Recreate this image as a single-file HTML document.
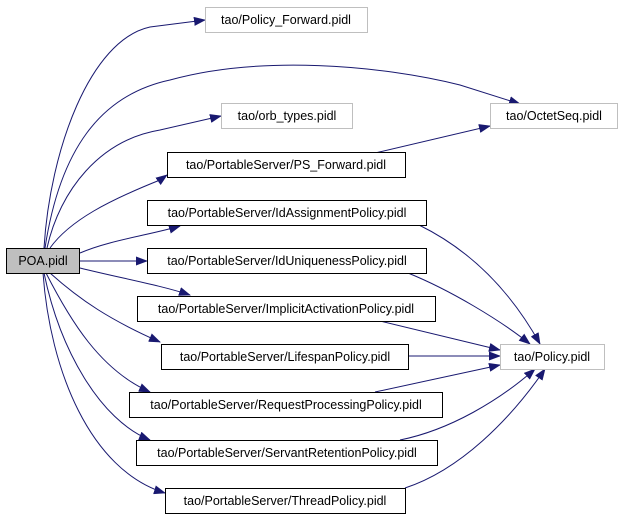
<!DOCTYPE html>
<html><head><meta charset="utf-8"><style>
html,body{margin:0;padding:0;background:#fff;}
svg{display:block;}
text{font-family:"Liberation Sans",sans-serif;font-size:12.5px;fill:#000;}
</style></head><body>
<svg width="619" height="517" viewBox="0 0 619 517" xmlns="http://www.w3.org/2000/svg">
<defs>
<marker id="a" markerWidth="12" markerHeight="9" refX="11" refY="4.5" orient="auto" markerUnits="userSpaceOnUse">
<path d="M0,0 L12,4.5 L0,9 Z" fill="#191970"/>
</marker>
</defs>
<g fill="none" stroke="#191970" stroke-width="1" marker-end="url(#a)">
<path d="M44,248 C50,150 90,40 150,27 L205,20"/>
<path d="M45,248 C60,150 100,95 170,80 C260,55 380,65 460,85 L520,104"/>
<path d="M47,248 C60,190 100,140 160,130 L221,116"/>
<path d="M50,248 C70,220 110,200 160,180 L167,175"/>
<path d="M80,253 C110,240 150,235 180,226"/>
<path d="M80,261 L147,261"/>
<path d="M80,268 C120,278 160,285 190,295"/>
<path d="M50,273 C80,300 110,320 160,342"/>
<path d="M46,273 C70,320 100,370 150,392"/>
<path d="M44,273 C60,350 100,420 150,440"/>
<path d="M43,273 C50,370 90,470 165,493"/>
<path d="M375,153 L490,126"/>
<path d="M419,225 C470,250 510,290 540,344"/>
<path d="M408,273 C450,290 500,320 530,344"/>
<path d="M380,321 L500,350"/>
<path d="M408,356 L500,356"/>
<path d="M375,392 L500,365"/>
<path d="M400,440 C450,430 500,400 535,369"/>
<path d="M405,488 C460,470 510,420 545,369"/>
</g>
<g stroke-width="1">
<rect x="6.5" y="248.5" width="73" height="25" fill="#bfbfbf" stroke="#000"/>
<rect x="205.5" y="7.5" width="162" height="25" fill="#fff" stroke="#bfbfbf"/>
<rect x="490.5" y="103.5" width="127" height="25" fill="#fff" stroke="#bfbfbf"/>
<rect x="221.5" y="103.5" width="131" height="25" fill="#fff" stroke="#bfbfbf"/>
<rect x="167.5" y="152.5" width="238" height="25" fill="#fff" stroke="#000"/>
<rect x="147.5" y="200.5" width="279" height="25" fill="#fff" stroke="#000"/>
<rect x="147.5" y="248.5" width="279" height="25" fill="#fff" stroke="#000"/>
<rect x="137.5" y="296.5" width="298" height="25" fill="#fff" stroke="#000"/>
<rect x="161.5" y="344.5" width="247" height="25" fill="#fff" stroke="#000"/>
<rect x="129.5" y="392.5" width="313" height="25" fill="#fff" stroke="#000"/>
<rect x="136.5" y="440.5" width="301" height="25" fill="#fff" stroke="#000"/>
<rect x="165.5" y="488.5" width="240" height="25" fill="#fff" stroke="#000"/>
<rect x="500.5" y="344.5" width="104" height="25" fill="#fff" stroke="#bfbfbf"/>
</g>
<g text-anchor="middle">
<text x="43" y="265">POA.pidl</text>
<text x="286" y="24">tao/Policy_Forward.pidl</text>
<text x="554" y="120">tao/OctetSeq.pidl</text>
<text x="287" y="120">tao/orb_types.pidl</text>
<text x="286" y="169">tao/PortableServer/PS_Forward.pidl</text>
<text x="287" y="217">tao/PortableServer/IdAssignmentPolicy.pidl</text>
<text x="287" y="265">tao/PortableServer/IdUniquenessPolicy.pidl</text>
<text x="286" y="313">tao/PortableServer/ImplicitActivationPolicy.pidl</text>
<text x="285" y="361">tao/PortableServer/LifespanPolicy.pidl</text>
<text x="286" y="409">tao/PortableServer/RequestProcessingPolicy.pidl</text>
<text x="287" y="457">tao/PortableServer/ServantRetentionPolicy.pidl</text>
<text x="285" y="505">tao/PortableServer/ThreadPolicy.pidl</text>
<text x="552" y="361">tao/Policy.pidl</text>
</g>
</svg>
</body></html>
